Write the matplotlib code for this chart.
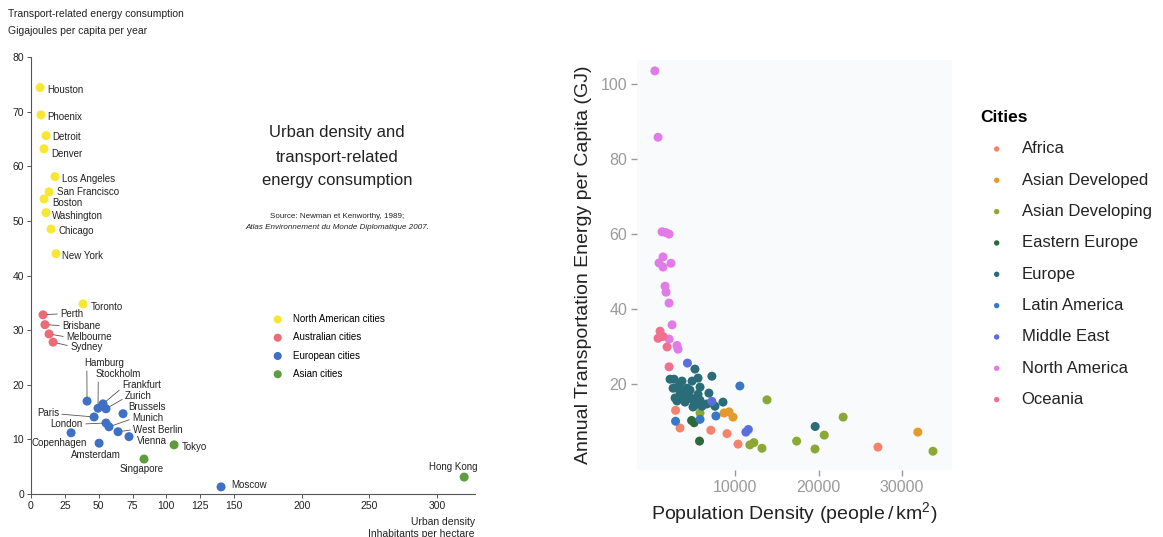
import matplotlib
matplotlib.use('Agg')
import matplotlib.pyplot as plt

plt.rcParams['font.family'] = ['Liberation Sans', 'DejaVu Sans']
plt.rcParams['mathtext.fontset'] = 'custom'
plt.rcParams['mathtext.rm'] = 'Liberation Sans'
plt.rcParams['mathtext.default'] = 'regular'

W, H = 1163, 537

## left chart: Newman & Kenworthy data (inhabitants/ha, GJ per capita)
na_names = ['Houston', 'Phoenix', 'Detroit', 'Denver', 'Los Angeles', 'San Francisco',
            'Boston', 'Washington', 'Chicago', 'New York', 'Toronto']
na_x = [6.7, 7.4, 11.1, 9.6, 17.7, 13.3, 9.6, 11.1, 14.8, 18.5, 38.4]
na_y = [74.4, 69.4, 65.6, 63.2, 58.1, 55.3, 54.0, 51.5, 48.5, 44.0, 34.8]

au_names = ['Perth', 'Brisbane', 'Melbourne', 'Sydney']
au_x = [8.9, 10.3, 13.3, 16.3]
au_y = [32.8, 31.0, 29.3, 27.8]

eu_names = ['Hamburg', 'Stockholm', 'Frankfurt', 'Zurich', 'Brussels', 'Paris', 'London',
            'Munich', 'West Berlin', 'Vienna', 'Copenhagen', 'Amsterdam', 'Moscow']
eu_x = [41.4, 49.5, 53.2, 55.4, 68.0, 46.6, 55.4, 57.6, 64.3, 72.4, 29.6, 50.3, 140.4]
eu_y = [17.0, 15.7, 16.5, 15.6, 14.7, 14.1, 13.0, 12.3, 11.4, 10.5, 11.2, 9.3, 1.3]

as_names = ['Tokyo', 'Singapore', 'Hong Kong']
as_x = [105.7, 83.5, 320.0]
as_y = [9.0, 6.4, 3.1]

left_ticks_x = [0, 25, 50, 75, 100, 125, 150, 200, 250, 300]
left_ticks_y = [0, 10, 20, 30, 40, 50, 60, 70, 80]

## right chart: population density vs transport energy, by region
regions = ['Africa', 'Asian Developed', 'Asian Developing', 'Eastern Europe', 'Europe',
           'Latin America', 'Middle East', 'North America', 'Oceania']
africa_x = [2880, 3410, 7100, 9040, 10360, 27120]
africa_y = [13.0, 8.3, 7.7, 6.8, 4.0, 3.2]
asdev_x = [7100, 8680, 9280, 9760, 31900]
asdev_y = [15.0, 12.3, 12.6, 11.2, 7.2]
asdvg_x = [5810, 13830, 22950, 20690, 17380, 19580, 33710, 11780, 12260, 13230]
asdvg_y = [12.3, 15.8, 11.2, 6.4, 4.8, 2.7, 2.1, 3.8, 4.4, 2.9]
easteu_x = [4800, 5100, 5750]
easteu_y = [10.3, 9.7, 4.8]
europe_x = [2220, 2700, 3650, 4850, 5570, 5200, 7230, 3290, 4250, 5810, 2580, 3410, 4250,
            4610, 5570, 6870, 2820, 3650, 4610, 4970, 4010, 5810, 4970, 6050, 6630, 7600,
            8560, 3050, 5300, 19600]
europe_y = [21.3, 21.3, 20.8, 20.8, 21.6, 24.0, 22.1, 19.5, 18.9, 19.2, 18.9, 17.9, 17.6,
            18.4, 17.3, 17.6, 16.3, 16.5, 16.5, 15.7, 15.2, 15.7, 13.9, 14.1, 14.7, 14.1,
            15.2, 15.5, 14.5, 8.7]
latam_x = [2880, 5810, 7710, 10580]
latam_y = [10.1, 10.6, 11.5, 19.5]
mideast_x = [4300, 7230, 11300, 11600]
mideast_y = [25.6, 15.4, 7.2, 7.9]
namer_x = [400, 780, 1260, 1700, 2100, 1380, 900, 1380, 2330, 1620, 1740, 2100, 2460,
           2100, 3050, 3170]
namer_y = [103.5, 85.8, 60.6, 60.4, 60.0, 53.9, 52.3, 51.2, 52.2, 46.1, 44.5, 41.6, 35.8,
           32.0, 30.3, 29.3]
oceania_x = [1020, 780, 1380, 1860, 2100]
oceania_y = [34.1, 32.2, 32.7, 29.9, 24.6]

right_ticks_x = [10000, 20000, 30000]
right_ticks_y = [20, 40, 60, 80, 100]

fig = plt.figure(figsize=(W / 100, H / 100), dpi=100)
fig.patch.set_facecolor('white')


def fx(px):
    return px / W


def fy(py):
    return 1 - py / H


# ---------------- left panel ----------------
ax1 = fig.add_axes([fx(31), fy(494), fx(475) - fx(31), fy(57) - fy(494)])
ax1.set_xlim(0, 328)
ax1.set_ylim(0, 80)
for s in ['top', 'right']:
    ax1.spines[s].set_visible(False)
for s in ['left', 'bottom']:
    ax1.spines[s].set_color('#555555')
    ax1.spines[s].set_linewidth(0.8)
ax1.set_xticks(left_ticks_x)
ax1.set_yticks(left_ticks_y)
ax1.tick_params(length=3, width=0.7, color='#555555', labelsize=7.5,
                labelcolor='#222222', pad=2)

groups = [
    (na_names, na_x, na_y, '#f7e733', 'North American cities'),
    (au_names, au_x, au_y, '#ec6b76', 'Australian cities'),
    (eu_names, eu_x, eu_y, '#3e70c6', 'European cities'),
    (as_names, as_x, as_y, '#5f9c3f', 'Asian cities'),
]

# label offsets in pixels: dx, dy, ha, leader start on text bbox
offs = {
    'Houston': (7, -2, 'left', None), 'Phoenix': (6, -2, 'left', None),
    'Detroit': (6, -1, 'left', None), 'Denver': (7, -5, 'left', None),
    'Los Angeles': (7, -2, 'left', None), 'San Francisco': (8, 0, 'left', None),
    'Boston': (8, -4, 'left', None), 'Washington': (6, -3, 'left', None),
    'Chicago': (7, -2, 'left', None), 'New York': (6, -2, 'left', None),
    'Toronto': (8, -3, 'left', None),
    'Perth': (17, 1, 'left', (0, 0.5)), 'Brisbane': (17, -1, 'left', (0, 0.5)),
    'Melbourne': (17, -3, 'left', (0, 0.5)), 'Sydney': (17, -5, 'left', (0, 0.6)),
    'Hamburg': (-3, 38, 'left', (0.07, 0)), 'Stockholm': (-2, 34, 'left', (0.05, 0)),
    'Frankfurt': (19, 19, 'left', (0, 0.2)), 'Zurich': (19, 13, 'left', (0, 0.3)),
    'Brussels': (5, 7, 'left', None), 'Paris': (-35, 4, 'right', (1, 0.4)),
    'London': (-23, -1, 'right', (1, 0.5)), 'Munich': (23, 9, 'left', (0, 0.4)),
    'West Berlin': (15, 2, 'left', (0, 0.5)), 'Vienna': (8, -4, 'left', None),
    'Copenhagen': (-12, -10, 'center', None), 'Amsterdam': (-3, -12, 'center', None),
    'Moscow': (10, 2, 'left', None),
    'Tokyo': (8, -2, 'left', None), 'Singapore': (-2, -10, 'center', None),
    'Hong Kong': (-11, 10, 'center', None),
}

for names, xs, ys, col, lab in groups:
    ax1.scatter(xs, ys, s=42, color=col, edgecolors='none', label=lab, clip_on=False, zorder=3)
    for n, x, y in zip(names, xs, ys):
        dx, dy, ha, rp = offs[n]
        ap = None
        if rp is not None:
            ap = dict(arrowstyle='-', color='#555555', lw=0.6, shrinkA=0, shrinkB=3,
                      relpos=rp)
        ax1.annotate(n, (x, y), xytext=(dx, dy), textcoords='offset pixels',
                     ha=ha, va='center', fontsize=7, color='#222222', arrowprops=ap)

ax1.legend(loc='upper left', bbox_to_anchor=(fx(268), fy(314)), bbox_transform=fig.transFigure,
           frameon=False, fontsize=7, handletextpad=0.6, labelspacing=0.85,
           markerscale=0.9, borderpad=0, borderaxespad=0)

fig.text(fx(8), fy(14), 'Transport-related energy consumption', fontsize=7.5,
         color='#222222', va='center')
fig.text(fx(8), fy(31), 'Gigajoules per capita per year', fontsize=7.5,
         color='#222222', va='center')
for txt, py in [('Urban density and', 132), ('transport-related', 157),
                ('energy consumption', 181)]:
    fig.text(fx(337), fy(py), txt, fontsize=12, color='#222222', ha='center', va='center')
fig.text(fx(337), fy(216), 'Source: Newman et Kenworthy, 1989;', fontsize=5.8,
         color='#222222', ha='center', va='center')
fig.text(fx(337), fy(227), 'Atlas Environnement du Monde Diplomatique 2007.', fontsize=5.8,
         color='#222222', ha='center', va='center', style='italic')
fig.text(fx(475), fy(522), 'Urban density', fontsize=7.5, color='#222222',
         ha='right', va='center')
fig.text(fx(475), fy(534), 'Inhabitants per hectare', fontsize=7.5, color='#222222',
         ha='right', va='center')

# ---------------- right panel ----------------
ax2 = fig.add_axes([fx(637), fy(470), fx(952) - fx(637), fy(60) - fy(470)])
ax2.set_facecolor('#f9fafb')
ax2.set_xlim(-1740, 35990)
ax2.set_ylim(-2.9, 106.4)
for s in ax2.spines.values():
    s.set_visible(False)
ax2.set_xticks(right_ticks_x)
ax2.set_yticks(right_ticks_y)
ax2.tick_params(length=4, width=1, color='#9a9a9a', labelsize=11.5,
                labelcolor='#9a9a9a', pad=3)

series = [
    (africa_x, africa_y, '#f5836b'),
    (asdev_x, asdev_y, '#e39b2b'),
    (asdvg_x, asdvg_y, '#8ca834'),
    (easteu_x, easteu_y, '#2d6a3b'),
    (europe_x, europe_y, '#2a6d79'),
    (latam_x, latam_y, '#3779c6'),
    (mideast_x, mideast_y, '#5b6edb'),
    (namer_x, namer_y, '#e07be8'),
    (oceania_x, oceania_y, '#f2708f'),
]
for name, (xs, ys, col) in zip(regions, series):
    ax2.scatter(xs, ys, s=42, color=col, edgecolors='none', label=name, zorder=3)

ax2.set_ylabel('Annual Transportation Energy per Capita (GJ)', fontsize=14,
               color='#222222', labelpad=6)
ax2.set_xlabel('Population Density (people$\\,$/$\\,$km$^2$)', fontsize=14,
               color='#222222', labelpad=4)

leg = ax2.legend(title='Cities', loc='upper left', bbox_to_anchor=(fx(980), fy(110)),
                 bbox_transform=fig.transFigure, frameon=False, fontsize=12,
                 title_fontproperties={'weight': 'bold', 'size': 12.5},
                 alignment='left', markerscale=0.6, handletextpad=0.5,
                 labelspacing=0.98, borderpad=0, borderaxespad=0)
for t in leg.get_texts():
    t.set_color('#222222')

fig.savefig('out.png', dpi=100)
